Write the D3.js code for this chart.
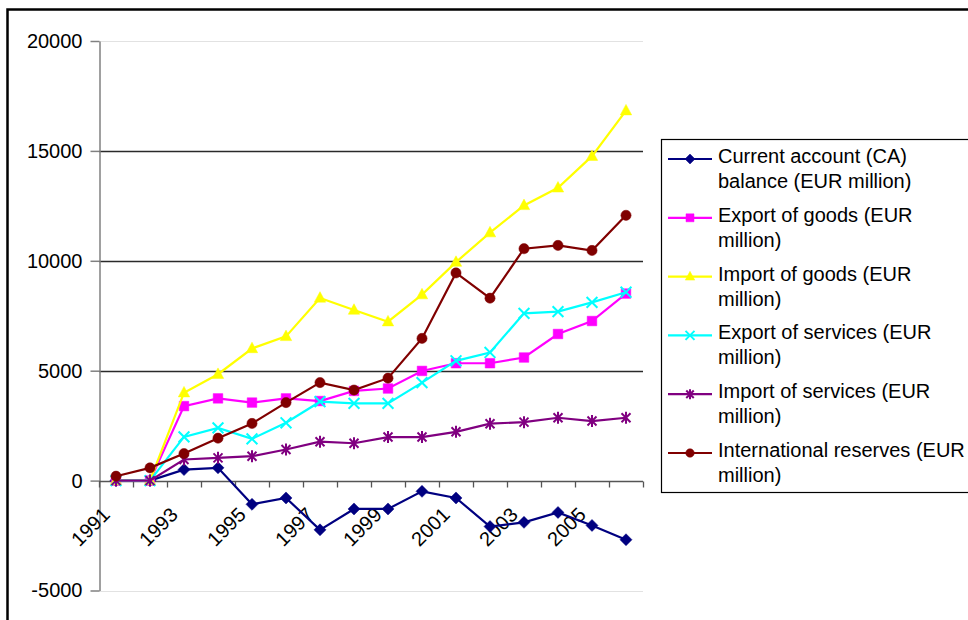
<!DOCTYPE html>
<html>
<head>
<meta charset="utf-8">
<script src="https://cdn.jsdelivr.net/npm/d3@7"></script>
<style>
  html, body { margin: 0; padding: 0; background: #fff; }
  svg { display: block; font-family: "Liberation Sans", Arial, sans-serif; }
</style>
</head>
<body>
<svg id="chart" width="968" height="620"></svg>
<script>
// Years on the category axis
const years = ["1991","1992","1993","1994","1995","1996","1997","1998",
               "1999","2000","2001","2002","2003","2004","2005","2006"];

// Series values, EUR million
const currentAccount   = [0, 0, 500, 580, -1080, -790, -2240, -1290, -1290, -490, -790, -2090, -1900, -1450, -2040, -2690];
const exportGoods      = [0, 0, 3390, 3740, 3550, 3740, 3620, 4080, 4190, 4990, 5340, 5340, 5600, 6670, 7260, 8510];
const importGoods      = [0, 0, 4000, 4840, 6010, 6560, 8310, 7760, 7230, 8460, 9940, 11280, 12520, 13320, 14760, 16830];
const exportServices   = [0, 0, 1990, 2400, 1900, 2630, 3590, 3515, 3515, 4460, 5450, 5830, 7610, 7690, 8110, 8570];
const importServices   = [0, 0, 960, 1035, 1110, 1415, 1770, 1700, 1980, 1980, 2220, 2590, 2660, 2860, 2710, 2860];
const intlReserves     = [200, 580, 1230, 1930, 2600, 3550, 4460, 4120, 4660, 6470, 9450, 8300, 10550, 10700, 10470, 12070];

// Value axis ticks
const yTicks = [-5000, 0, 5000, 10000, 15000, 20000];

// Legend labels (two lines each)
const seriesNames = [
  ["Current account (CA)", "balance (EUR million)"],
  ["Export of goods (EUR", "million)"],
  ["Import of goods (EUR", "million)"],
  ["Export of services (EUR", "million)"],
  ["Import of services (EUR", "million)"],
  ["International reserves (EUR", "million)"]
];

const series = [
  { values: currentAccount, color: "#000080", marker: "diamond" },
  { values: exportGoods,    color: "#FF00FF", marker: "square" },
  { values: importGoods,    color: "#FFFF00", marker: "triangle" },
  { values: exportServices, color: "#00FFFF", marker: "x" },
  { values: importServices, color: "#800080", marker: "star" },
  { values: intlReserves,   color: "#800000", marker: "circle" }
].map((s, i) => ({ ...s, name: seriesNames[i] }));

const svg = d3.select("#chart");

// Outer chart frame
svg.append("rect")
  .attr("x", 7.5).attr("y", 9.5)
  .attr("width", 1200).attr("height", 1000)
  .attr("fill", "#fff")
  .attr("stroke", "#000").attr("stroke-width", 2.5);

const x = d3.scaleBand().domain(years).range([99, 643]);
const y = d3.scaleLinear().domain([-5000, 20000]).range([590.5, 41]);
const cx = d => x(d) + x.bandwidth() / 2;

// Horizontal gridlines / plot bounds
const plot = svg.append("g");
plot.selectAll("line.grid")
  .data(yTicks.filter(t => t !== 0))
  .join("line")
  .attr("class", "grid")
  .attr("x1", 99).attr("x2", 643)
  .attr("y1", d => Math.round(y(d)) + 0.5)
  .attr("y2", d => Math.round(y(d)) + 0.5)
  .attr("stroke", d => (d === 20000 || d === -5000) ? "#e2e2e2" : "#2a2a2a")
  .attr("stroke-width", d => (d === 20000 || d === -5000) ? 1.2 : 1.3);

// Value axis
const yAxis = d3.axisLeft(y)
  .tickValues(yTicks)
  .tickFormat(d => String(d))
  .tickSize(9)
  .tickPadding(8)
  .tickSizeOuter(0);
const gy = svg.append("g")
  .attr("transform", "translate(99.5,0)")
  .call(yAxis);
gy.select(".domain").attr("stroke", "#808080").attr("stroke-width", 1.5);
gy.selectAll(".tick line").attr("stroke", "#808080").attr("stroke-width", 1.5);
gy.selectAll(".tick text")
  .attr("font-size", 20)
  .attr("font-family", "Liberation Sans, Arial, sans-serif")
  .attr("fill", "#000");

// Category axis along zero
const zeroY = Math.round(y(0)) + 0.5;
const gx = svg.append("g");
gx.append("line")
  .attr("x1", 99).attr("x2", 643)
  .attr("y1", zeroY).attr("y2", zeroY)
  .attr("stroke", "#555").attr("stroke-width", 1.5);
const edges = years.map(d => x(d)).concat([x.range()[1]]);
gx.selectAll("line.tick")
  .data(edges)
  .join("line")
  .attr("class", "tick")
  .attr("x1", d => Math.round(d) + 0.5).attr("x2", d => Math.round(d) + 0.5)
  .attr("y1", zeroY).attr("y2", zeroY + 6)
  .attr("stroke", "#555").attr("stroke-width", 1.3);
gx.selectAll("text")
  .data(years.filter((d, i) => i % 2 === 0))
  .join("text")
  .attr("transform", d => `translate(${cx(d) - 5},${516}) rotate(-45)`)
  .attr("text-anchor", "end")
  .attr("font-size", 20)
  .attr("fill", "#000")
  .text(d => d);

// Marker shapes
function markerPath(type, r) {
  const p = d3.path();
  switch (type) {
    case "diamond":
      p.moveTo(0, -r); p.lineTo(r, 0); p.lineTo(0, r); p.lineTo(-r, 0); p.closePath(); break;
    case "square":
      p.rect(-r * 0.8, -r * 0.8, r * 1.6, r * 1.6); break;
    case "triangle":
      p.moveTo(0, -r * 1.05); p.lineTo(r * 0.95, r * 0.7); p.lineTo(-r * 0.95, r * 0.7); p.closePath(); break;
    case "circle":
      p.arc(0, 0, r * 0.85, 0, 2 * Math.PI); break;
    case "x":
      p.moveTo(-r * 0.9, -r * 0.9); p.lineTo(r * 0.9, r * 0.9); p.moveTo(r * 0.9, -r * 0.9); p.lineTo(-r * 0.9, r * 0.9); break;
    case "star":
      p.moveTo(-r * 0.75, -r * 0.75); p.lineTo(r * 0.75, r * 0.75);
      p.moveTo(r * 0.75, -r * 0.75); p.lineTo(-r * 0.75, r * 0.75);
      p.moveTo(0, -r); p.lineTo(0, r); break;
  }
  return p.toString();
}
const stroked = t => t === "x" || t === "star";

const line = d3.line().x(d => cx(d.year)).y(d => y(d.value));

series.forEach(s => {
  const pts = years.map((yr, i) => ({ year: yr, value: s.values[i] }));
  const g = svg.append("g");
  g.append("path")
    .datum(pts)
    .attr("d", line)
    .attr("fill", "none")
    .attr("stroke", s.color)
    .attr("stroke-width", 2.2);
  g.selectAll("path.m")
    .data(pts)
    .join("path")
    .attr("class", "m")
    .attr("transform", d => `translate(${cx(d.year)},${y(d.value)})`)
    .attr("d", markerPath(s.marker, 6))
    .attr("fill", stroked(s.marker) ? "none" : s.color)
    .attr("stroke", s.color)
    .attr("stroke-width", stroked(s.marker) ? 2 : 0.5);
});

// Legend
const lg = svg.append("g");
lg.append("rect")
  .attr("x", 661.5).attr("y", 139.5)
  .attr("width", 400).attr("height", 353)
  .attr("fill", "#fff")
  .attr("stroke", "#000").attr("stroke-width", 1.2);
series.forEach((s, i) => {
  const base = 163 + i * 58.8;
  const g = lg.append("g");
  g.append("line")
    .attr("x1", 668).attr("x2", 712)
    .attr("y1", base - 4).attr("y2", base - 4)
    .attr("stroke", s.color).attr("stroke-width", 2.2);
  g.append("path")
    .attr("transform", `translate(690,${base - 4})`)
    .attr("d", markerPath(s.marker, 5))
    .attr("fill", stroked(s.marker) ? "none" : s.color)
    .attr("stroke", s.color)
    .attr("stroke-width", stroked(s.marker) ? 2 : 0.5);
  s.name.forEach((t, j) => {
    g.append("text")
      .attr("x", 718).attr("y", base + j * 25)
      .attr("font-size", 20)
      .attr("fill", "#000")
      .text(t);
  });
});
</script>
</body>
</html>
